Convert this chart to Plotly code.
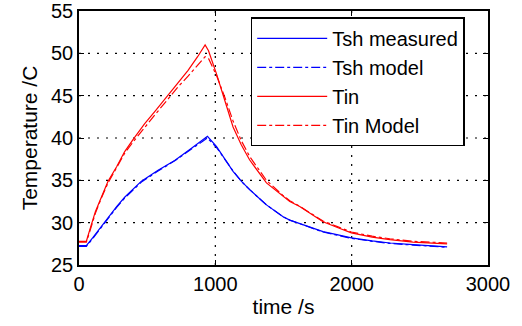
import plotly.graph_objects as go

# Time (s) and temperatures (C)
t_sh = [0, 54, 100, 152, 213, 276, 335, 458, 580, 702, 825, 942, 1008, 1070, 1130, 1190, 1252, 1375, 1497, 1546, 1619, 1700, 1790, 1900, 1998, 2150, 2280, 2450, 2600, 2700]
tsh_measured = [27.3, 27.3, 28.2, 29.3, 30.6, 31.9, 33.0, 34.9, 36.2, 37.35, 38.8, 40.2, 39.0, 37.5, 36.05, 34.9, 33.9, 32.1, 30.7, 30.3, 29.9, 29.4, 28.95, 28.55, 28.2, 27.85, 27.6, 27.4, 27.25, 27.15]
tsh_model = [27.2, 27.2, 28.1, 29.2, 30.5, 31.8, 32.9, 34.8, 36.1, 37.3, 38.7, 40.0, 38.9, 37.5, 36.1, 34.9, 33.9, 32.1, 30.7, 30.3, 29.9, 29.4, 28.9, 28.5, 28.15, 27.8, 27.55, 27.35, 27.2, 27.1]

t_in = [0, 54, 80, 120, 164, 213, 276, 335, 400, 482, 560, 653, 730, 800, 870, 925, 950, 1008, 1070, 1130, 1190, 1252, 1375, 1497, 1546, 1619, 1700, 1790, 1900, 1998, 2150, 2280, 2450, 2600, 2700]
tin_measured = [27.8, 27.8, 29.2, 31.3, 33.0, 34.9, 36.6, 38.4, 39.9, 41.7, 43.2, 45.1, 46.6, 48.0, 49.6, 51.0, 50.3, 47.6, 44.4, 41.3, 39.2, 37.4, 34.7, 33.1, 32.5, 31.9, 31.0, 30.1, 29.4, 28.8, 28.3, 28.0, 27.7, 27.55, 27.5]
tin_model = [27.7, 27.7, 29.0, 31.1, 32.9, 34.7, 36.5, 38.2, 39.6, 41.3, 42.8, 44.6, 46.1, 47.3, 48.6, 49.6, 49.4, 47.4, 44.8, 42.0, 39.7, 37.8, 35.0, 33.2, 32.6, 31.95, 31.1, 30.2, 29.5, 28.9, 28.4, 28.1, 27.8, 27.65, 27.6]

x_ticks = [0, 1000, 2000, 3000]
y_ticks = [25, 30, 35, 40, 45, 50, 55]
x_range = [0, 3000]
y_range = [25, 55]

FONT = "Liberation Sans, Arial, sans-serif"

fig = go.Figure()

# dotted grid at the interior ticks, built from the tick lists
gx, gy = [], []
for xv in x_ticks[1:-1]:
    gx += [xv, xv, None]
    gy += [y_range[0], y_range[1], None]
for yv in y_ticks[1:-1]:
    gx += [x_range[0], x_range[1], None]
    gy += [yv, yv, None]
fig.add_trace(go.Scatter(x=gx, y=gy, mode="lines", showlegend=False, hoverinfo="skip",
                         line=dict(color="#000000", width=1.2, dash="2px,7px")))

fig.add_trace(go.Scatter(x=t_sh, y=tsh_measured, mode="lines", name="Tsh measured",
                         line=dict(color="#0000ff", width=1.2)))
fig.add_trace(go.Scatter(x=t_sh, y=tsh_model, mode="lines", name="Tsh model",
                         line=dict(color="#0000ff", width=1.2, dash="dashdot")))
fig.add_trace(go.Scatter(x=t_in, y=tin_measured, mode="lines", name="Tin",
                         line=dict(color="#ff0000", width=1.2)))
fig.add_trace(go.Scatter(x=t_in, y=tin_model, mode="lines", name="Tin Model",
                         line=dict(color="#ff0000", width=1.2, dash="dashdot")))

axis_common = dict(
    showline=True, linecolor="black", linewidth=1.5, mirror="ticks",
    ticks="inside", ticklen=5, tickcolor="black", tickwidth=1,
    showgrid=False,
    zeroline=False, automargin=False, ticklabeloverflow="allow",
    tickfont=dict(family=FONT, size=20, color="black"),
)

fig.update_layout(
    width=522, height=326,
    margin=dict(l=79, r=34, t=11, b=61),
    paper_bgcolor="white", plot_bgcolor="white",
    font=dict(family=FONT, size=20, color="black"),
    xaxis=dict(range=x_range, tickvals=x_ticks, ticktext=[str(v) for v in x_ticks],
               title=dict(text="time /s", font=dict(family=FONT, size=21), standoff=6),
               **axis_common),
    yaxis=dict(range=y_range, tickvals=y_ticks, ticktext=[str(v) for v in y_ticks],
               title=dict(text="Temperature /C", font=dict(family=FONT, size=21), standoff=8),
               **axis_common),
    legend=dict(x=0.4198, y=0.975, xanchor="left", yanchor="top",
                bgcolor="white", bordercolor="black", borderwidth=1.5,
                font=dict(family=FONT, size=20, color="black"),
                itemwidth=70, tracegroupgap=0),
    showlegend=True,
)

fig.write_html("out.html")
